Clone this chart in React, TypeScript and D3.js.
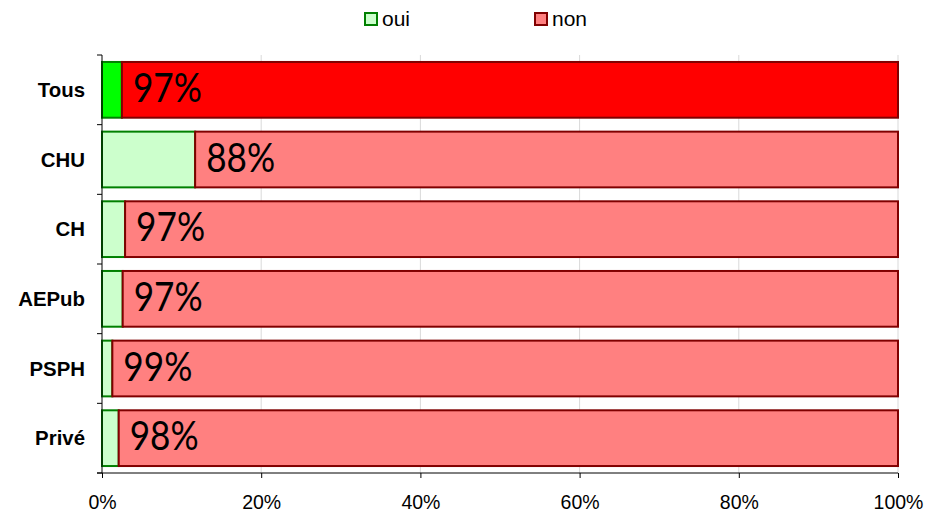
import React, { useEffect, useRef } from 'react';
import * as d3 from 'd3';

const categories = ['Tous', 'CHU', 'CH', 'AEPub', 'PSPH', 'Privé'];
const ouiValues = [2.5, 11.7, 2.9, 2.6, 1.3, 2.1];
const nonValues = [97.5, 88.3, 97.1, 97.4, 98.7, 97.9];
const nonLabels = ['97%', '88%', '97%', '97%', '99%', '98%'];
const xTicks = [0, 20, 40, 60, 80, 100];

const App: React.FC = () => {
  const svgRef = useRef<SVGSVGElement>(null);

  useEffect(() => {
    if (!svgRef.current) return;
    const width = 926;
    const height = 513;
    const margin = { top: 55, right: 28, bottom: 40, left: 102 };

    const svg = d3.select(svgRef.current);
    svg.selectAll('*').remove();

    const x = d3.scaleLinear()
      .domain([0, 100])
      .range([margin.left, width - margin.right]);

    const y = d3.scaleBand<string>()
      .domain(categories)
      .range([margin.top, height - margin.bottom])
      .paddingInner(0.2)
      .paddingOuter(0.1);

    // gridlines
    svg.append('g')
      .selectAll('line')
      .data(xTicks.slice(1))
      .join('line')
      .attr('x1', d => x(d)).attr('x2', d => x(d))
      .attr('y1', margin.top).attr('y2', height - margin.bottom)
      .attr('stroke', '#d9d9d9')
      .attr('stroke-width', 1);

    const rows = svg.append('g')
      .selectAll('g')
      .data(categories)
      .join('g');

    rows.append('rect')
      .attr('x', x(0))
      .attr('y', d => y(d)!)
      .attr('width', (_, i) => x(ouiValues[i]) - x(0))
      .attr('height', y.bandwidth())
      .attr('fill', (_, i) => (i === 0 ? '#00ff00' : '#ccffcc'))
      .attr('stroke', '#008000')
      .attr('stroke-width', 2);

    rows.append('rect')
      .attr('x', (_, i) => x(ouiValues[i]))
      .attr('y', d => y(d)!)
      .attr('width', (_, i) => x(ouiValues[i] + nonValues[i]) - x(ouiValues[i]))
      .attr('height', y.bandwidth())
      .attr('fill', (_, i) => (i === 0 ? '#ff0000' : '#ff8080'))
      .attr('stroke', '#800000')
      .attr('stroke-width', 2);

    // big percent labels (narrow, Calibri-like)
    rows.append('text')
      .attr('x', (_, i) => x(ouiValues[i]) + 11)
      .attr('y', d => y(d)! + y.bandwidth() / 2)
      .attr('dy', '0.3em')
      .attr('font-family', 'Lato, sans-serif')
      .attr('font-size', 40)
      .attr('textLength', 69)
      .attr('lengthAdjust', 'spacingAndGlyphs')
      .attr('fill', '#000')
      .text((_, i) => nonLabels[i]);

    // y axis
    const yAxis = svg.append('g')
      .attr('transform', `translate(${margin.left},0)`);
    yAxis.append('line')
      .attr('x1', 0).attr('x2', 0)
      .attr('y1', margin.top).attr('y2', height - margin.bottom)
      .attr('stroke', '#000');
    const tickYs = d3.range(categories.length + 1)
      .map(i => margin.top + i * y.step());
    yAxis.selectAll('line.tick')
      .data(tickYs)
      .join('line')
      .attr('class', 'tick')
      .attr('x1', -5).attr('x2', 0)
      .attr('y1', d => d).attr('y2', d => d)
      .attr('stroke', '#000');
    yAxis.selectAll('text')
      .data(categories)
      .join('text')
      .attr('x', -17)
      .attr('y', d => y(d)! + y.bandwidth() / 2)
      .attr('dy', '0.35em')
      .attr('text-anchor', 'end')
      .attr('font-family', '"Liberation Sans", Arial, sans-serif')
      .attr('font-weight', 'bold')
      .attr('font-size', 20.4)
      .text(d => d);

    // x axis
    const xAxis = svg.append('g')
      .attr('transform', `translate(0,${height - margin.bottom})`)
      .call(d3.axisBottom(x).tickValues(xTicks).tickSize(5).tickPadding(17).tickFormat(d => `${d}%`));
    xAxis.select('.domain').attr('stroke', '#000').attr('d', `M${x(0) - 5},0H${x(100)}`);
    xAxis.selectAll('text')
      .attr('font-family', '"Liberation Sans", Arial, sans-serif')
      .attr('font-size', 19.5)
      .attr('fill', '#000');

    // legend
    const legend = svg.append('g');
    const items = [
      { label: 'oui', x: 365, fill: '#ccffcc', stroke: '#008000' },
      { label: 'non', x: 535, fill: '#ff8080', stroke: '#800000' },
    ];
    items.forEach(it => {
      legend.append('rect')
        .attr('x', it.x).attr('y', 13)
        .attr('width', 12).attr('height', 12)
        .attr('fill', it.fill)
        .attr('stroke', it.stroke)
        .attr('stroke-width', 2);
      legend.append('text')
        .attr('x', it.x + 17).attr('y', 19)
        .attr('dy', '0.35em')
        .attr('font-family', '"Liberation Sans", Arial, sans-serif')
        .attr('font-size', 21)
        .text(it.label);
    });
  }, []);

  return (
    <svg ref={svgRef} width={926} height={513}
      style={{ position: 'absolute', left: 0, top: 0, background: '#fff' }} />
  );
};

export default App;
